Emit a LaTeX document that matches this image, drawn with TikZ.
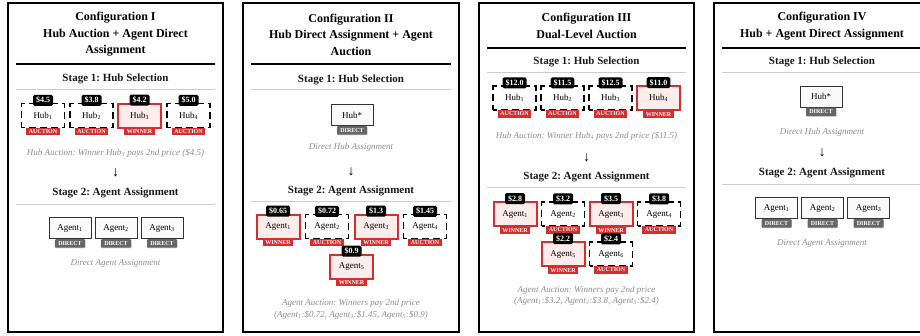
\documentclass[tikz,border=0pt]{standalone}
\usepackage{fontspec}
\setmainfont{Liberation Serif}
\usetikzlibrary{shadows}
\definecolor{bidred}{HTML}{D32F2F}
\definecolor{winfill}{HTML}{FDECEC}
\definecolor{capgray}{HTML}{8C8C8C}
\definecolor{rulegray}{HTML}{CCCCCC}
\definecolor{dirgray}{HTML}{666666}
\definecolor{dirfill}{HTML}{FAFAFA}

\tikzset{
  panel/.style={draw=black, line width=2pt},
  ttl/.style={font=\fontsize{12}{16.5}\selectfont\bfseries, align=center, inner sep=0},
  stagehead/.style={font=\fontsize{11}{13}\selectfont\bfseries, text=black!90, inner sep=0},
  toprule/.style={line width=1.2pt},
  subrule/.style={draw=rulegray, line width=0.8pt},
  note/.style={font=\fontsize{9}{11.5}\selectfont\itshape, text=capgray, align=center, inner sep=0},
  downarrow/.style={font=\fontsize{14}{14}\selectfont, inner sep=0},
  ent/.style={minimum width=43pt, minimum height=24pt, inner sep=0, font=\fontsize{9}{10}\selectfont},
  aucbox/.style={ent, draw=black, line width=1.6pt, dash pattern=on 7pt off 4pt, dash phase=3.5pt, fill=white},
  winbox/.style={ent, draw=bidred, line width=2pt, fill=winfill},
  dirbox/.style={ent, minimum width=42pt, minimum height=21pt, draw=black!80, line width=1pt, fill=dirfill,
    drop shadow={shadow xshift=0.6pt, shadow yshift=-0.8pt, opacity=0.25}},
  price/.style={fill=black, text=white, font=\fontsize{8}{9}\selectfont\bfseries, rounded corners=1.5pt, inner xsep=3pt, inner ysep=0pt, minimum height=11pt},
  stat/.style={fill=bidred, text=white, font=\fontsize{6}{7}\selectfont\bfseries, inner xsep=2.4pt, inner ysep=0pt, minimum height=7.5pt},
  dirtag/.style={fill=dirgray, text=white, font=\fontsize{6}{7}\selectfont\bfseries, inner ysep=0pt, minimum height=8.5pt, minimum width=30pt, rounded corners=0.8pt,
    drop shadow={shadow xshift=0.5pt, shadow yshift=-0.6pt, opacity=0.3}},
}

% entry with a bid tag on top and a status tag below
\newcommand{\bidentry}[6]{%
  \node[#2] (#1) at (#3) {#4};
  \node[price, anchor=south] (#1-bid) at ([yshift=-3.4pt]#1.north) {#5};
  \node[stat, anchor=north] (#1-tag) at ([yshift=0.8pt]#1.south) {#6};
}
% directly assigned entry with a DIRECT tag below
\newcommand{\direntry}[3]{%
  \node[dirbox] (#1) at (#2) {#3};
  \node[dirtag, anchor=north] (#1-tag) at (#1.south) {DIRECT};
}
\newcommand{\sub}[1]{\textsubscript{#1}}

\begin{document}
\frenchspacing
\begin{tikzpicture}[x=1pt, y=-1pt]
\useasboundingbox (0,0) rectangle (920,335);
\clip (0,0) rectangle (920,335);

% ---------- Configuration I ----------
\draw[panel] (8,3) rectangle (223,332);
\node[ttl] (p1title) at (115.5,34.5) {Configuration I\\Hub Auction + Agent Direct\\Assignment};
\draw[toprule] (16,64) -- (215,64);
\node[stagehead] (p1s1) at (115.5,79) {Stage 1: Hub Selection};
\draw[subrule] (16,89) -- (215,89);
\bidentry{p1h1}{aucbox}{43,115.5}{Hub\sub{1}}{\$4.5}{AUCTION}
\bidentry{p1h2}{aucbox}{91.5,115.5}{Hub\sub{2}}{\$3.8}{AUCTION}
\bidentry{p1h3}{winbox}{139.5,115.5}{Hub\sub{3}}{\$4.2}{WINNER}
\bidentry{p1h4}{aucbox}{188.5,115.5}{Hub\sub{4}}{\$5.0}{AUCTION}
\node[note] (p1c1) at (115.5,153) {Hub Auction: Winner Hub\sub{3} pays 2nd price (\$4.5)};
\node[downarrow] (p1arrow) at (115.5,173) {↓};
\node[stagehead] (p1s2) at (115.5,193) {Stage 2: Agent Assignment};
\draw[subrule] (16,204) -- (215,204);
\direntry{p1a1}{70,228}{Agent\sub{1}}
\direntry{p1a2}{116,228}{Agent\sub{2}}
\direntry{p1a3}{162,228}{Agent\sub{3}}
\node[note] (p1c2) at (115.5,263) {Direct Agent Assignment};

% ---------- Configuration II ----------
\draw[panel] (243,3) rectangle (459,332);
\node[ttl] (p2title) at (351,34.5) {Configuration II\\Hub Direct Assignment + Agent\\Auction};
\draw[toprule] (251,64) -- (451,64);
\node[stagehead] (p2s1) at (351,80) {Stage 1: Hub Selection};
\draw[subrule] (251,89) -- (451,89);
\direntry{p2hub}{352,115}{Hub*}
\node[note] (p2c1) at (351,147) {Direct Hub Assignment};
\node[downarrow] (p2arrow) at (351,172) {↓};
\node[stagehead] (p2s2) at (351,191) {Stage 2: Agent Assignment};
\draw[subrule] (251,201) -- (451,201);
\bidentry{p2a1}{winbox}{278,226.5}{Agent\sub{1}}{\$0.65}{WINNER}
\bidentry{p2a2}{aucbox}{327,226.5}{Agent\sub{2}}{\$0.72}{AUCTION}
\bidentry{p2a3}{winbox}{376,226.5}{Agent\sub{3}}{\$1.3}{WINNER}
\bidentry{p2a4}{aucbox}{425,226.5}{Agent\sub{4}}{\$1.45}{AUCTION}
\bidentry{p2a5}{winbox}{351.5,266.5}{Agent\sub{5}}{\$0.9}{WINNER}
\node[note] (p2c2) at (351,309.5) {Agent Auction: Winners pay 2nd price\\(Agent\sub{1}:\$0.72, Agent\sub{3}:\$1.45, Agent\sub{5}:\$0.9)};

% ---------- Configuration III ----------
\draw[panel] (479,3) rectangle (694,332);
\node[ttl] (p3title) at (586.5,26) {Configuration III\\Dual-Level Auction};
\draw[toprule] (487,48) -- (686,48);
\node[stagehead] (p3s1) at (586.5,62) {Stage 1: Hub Selection};
\draw[subrule] (487,72) -- (686,72);
\bidentry{p3h1}{aucbox}{514.5,98}{Hub\sub{1}}{\$12.0}{AUCTION}
\bidentry{p3h2}{aucbox}{562.5,98}{Hub\sub{2}}{\$11.5}{AUCTION}
\bidentry{p3h3}{aucbox}{610.5,98}{Hub\sub{3}}{\$12.5}{AUCTION}
\bidentry{p3h4}{winbox}{658.5,98}{Hub\sub{4}}{\$11.0}{WINNER}
\node[note] (p3c1) at (586.5,136) {Hub Auction: Winner Hub\sub{4} pays 2nd price (\$11.5)};
\node[downarrow] (p3arrow) at (586.5,158) {↓};
\node[stagehead] (p3s2) at (586.5,177) {Stage 2: Agent Assignment};
\draw[subrule] (487,187) -- (686,187);
\bidentry{p3a1}{winbox}{515,214}{Agent\sub{1}}{\$2.8}{WINNER}
\bidentry{p3a2}{aucbox}{563,214}{Agent\sub{2}}{\$3.2}{AUCTION}
\bidentry{p3a3}{winbox}{611,214}{Agent\sub{3}}{\$3.5}{WINNER}
\bidentry{p3a4}{aucbox}{659,214}{Agent\sub{4}}{\$3.8}{AUCTION}
\bidentry{p3a5}{winbox}{563,254}{Agent\sub{5}}{\$2.2}{WINNER}
\bidentry{p3a6}{aucbox}{611,254}{Agent\sub{6}}{\$2.4}{AUCTION}
\node[note] (p3c2) at (586.5,296) {Agent Auction: Winners pay 2nd price\\(Agent\sub{1}:\$3.2, Agent\sub{3}:\$3.8, Agent\sub{5}:\$2.4)};

% ---------- Configuration IV ----------
\draw[panel] (714,3) rectangle (931,332);
\node[ttl] (p4title) at (822,26) {Configuration IV\\Hub + Agent Direct Assignment};
\draw[toprule] (722,48) -- (923,48);
\node[stagehead] (p4s1) at (822,62) {Stage 1: Hub Selection};
\draw[subrule] (722,72) -- (923,72);
\direntry{p4hub}{821,96.5}{Hub*}
\node[note] (p4c1) at (822,132) {Direct Hub Assignment};
\node[downarrow] (p4arrow) at (822,153) {↓};
\node[stagehead] (p4s2) at (822,173) {Stage 2: Agent Assignment};
\draw[subrule] (722,184) -- (923,184);
\direntry{p4a1}{776.5,208}{Agent\sub{1}}
\direntry{p4a2}{822.5,208}{Agent\sub{2}}
\direntry{p4a3}{868.5,208}{Agent\sub{3}}
\node[note] (p4c2) at (822,243) {Direct Agent Assignment};
\end{tikzpicture}
\end{document}
